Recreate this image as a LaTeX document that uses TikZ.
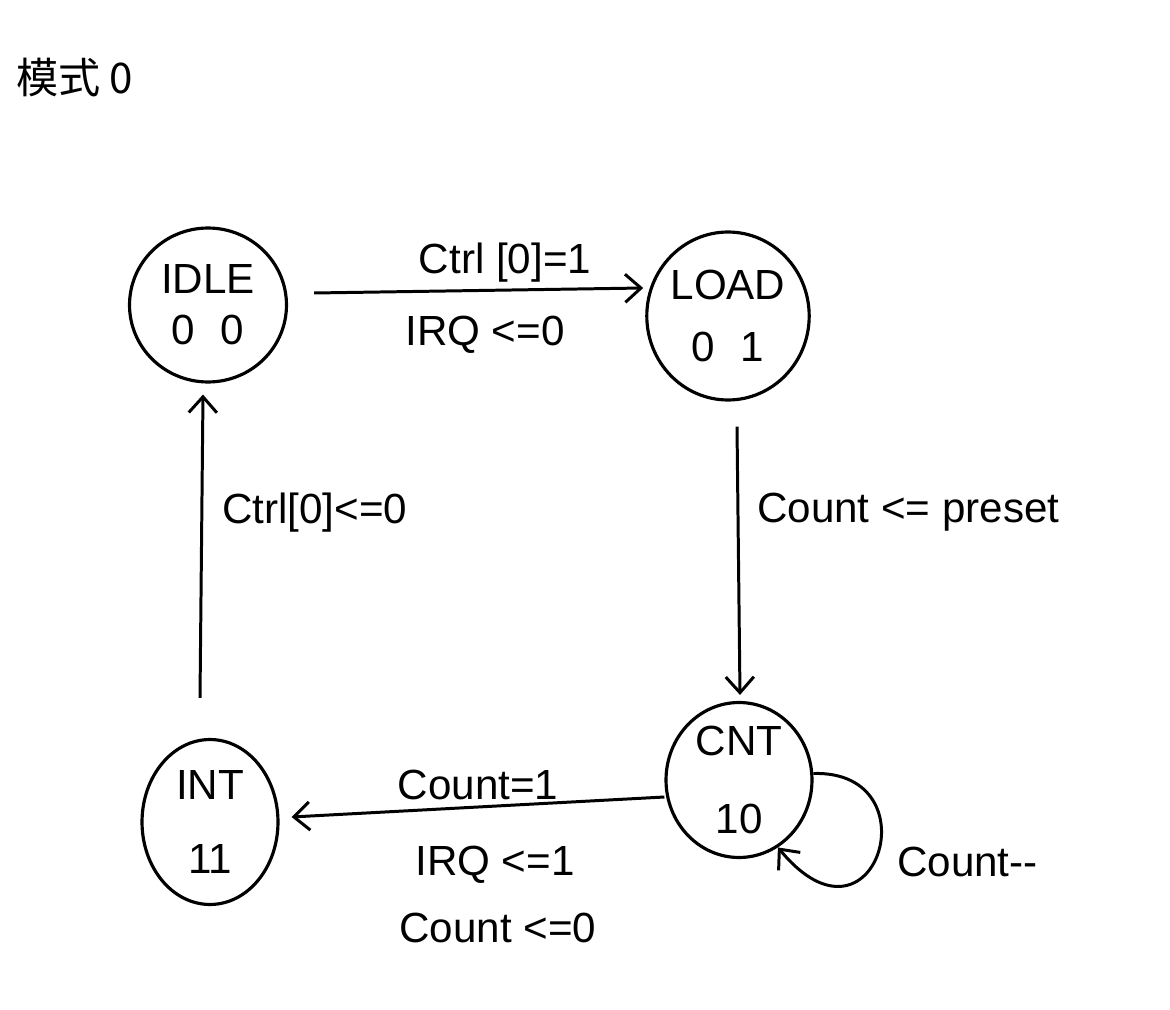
\documentclass[tikz,border=0pt]{standalone}
\usepackage{fontspec}
\setmainfont{Liberation Sans}
\newfontfamily\cjk{Noto Sans CJK SC}
\usetikzlibrary{arrows.meta,shapes.geometric,calc}
\begin{document}
\begin{tikzpicture}[x=0.02cm,y=-0.02cm,
  state/.style={draw, ellipse, line width=1.8pt, inner sep=0pt, align=center,
    font=\fontsize{24}{28}\selectfont},
  trans/.style={line width=1.7pt, -{Straight Barb[length=9pt,width=16pt,line width=1.7pt]}},
  lbl/.style={font=\fontsize{24}{28}\selectfont, inner sep=1pt}]
\useasboundingbox[fill=white] (0,0) rectangle (1170,1010);

\node[font=\cjk\fontsize{24}{28}\selectfont, anchor=west] (title) at (10,78) {模式 0};

\node[state, minimum width=3.14cm, minimum height=3.08cm] (idle) at (208,305) {IDLE\\[1pt]0\hspace{0.6em}0};
\node[state, minimum width=3.06cm, minimum height=3.36cm] (load) at (728,316) {LOAD\\[7pt]0\hspace{0.6em}1};
\node[state, minimum width=2.92cm, minimum height=3.1cm] (cnt) at (739,780) {CNT\\[16pt]10};
\node[state, minimum width=2.72cm, minimum height=3.3cm] (int) at (210,822) {INT\\[14pt]11};

% IDLE -> LOAD
\draw[trans] ($(idle.east)+(26,-12)$) -- ($(load.west)+(-2,-28)$);
\node[lbl] (l1a) at (505,263) {Ctrl [0]=1};
\node[lbl] (l1b) at (485,335) {IRQ <=0};

% LOAD -> CNT
\draw[trans] ($(load.south)+(9,25)$) -- ($(cnt.north)+(1,-6)$);
\node[lbl, anchor=west] (l2) at (755,512) {Count <= preset};

% CNT -> INT
\draw[trans] ($(cnt.west)+(0,17)$) -- ($(int.east)+(12,-5)$);
\node[lbl] (l3a) at (478,785) {Count=1};
\node[lbl] (l3b) at (495,865) {IRQ <=1};
\node[lbl] (l3c) at (498,928) {Count <=0};

% INT -> IDLE
\draw[trans] ($(int.north)+(-10,-40)$) -- ($(idle.south)+(-5,11)$);
\node[lbl, anchor=west] (l4) at (220,513) {Ctrl[0]<=0};

% CNT self loop
\draw[trans] (cnt.5) .. controls (935,770) and (875,965) .. (cnt.-60);
\node[lbl, anchor=west] (l5) at (895,862) {Count-{}-};
\end{tikzpicture}
\end{document}
